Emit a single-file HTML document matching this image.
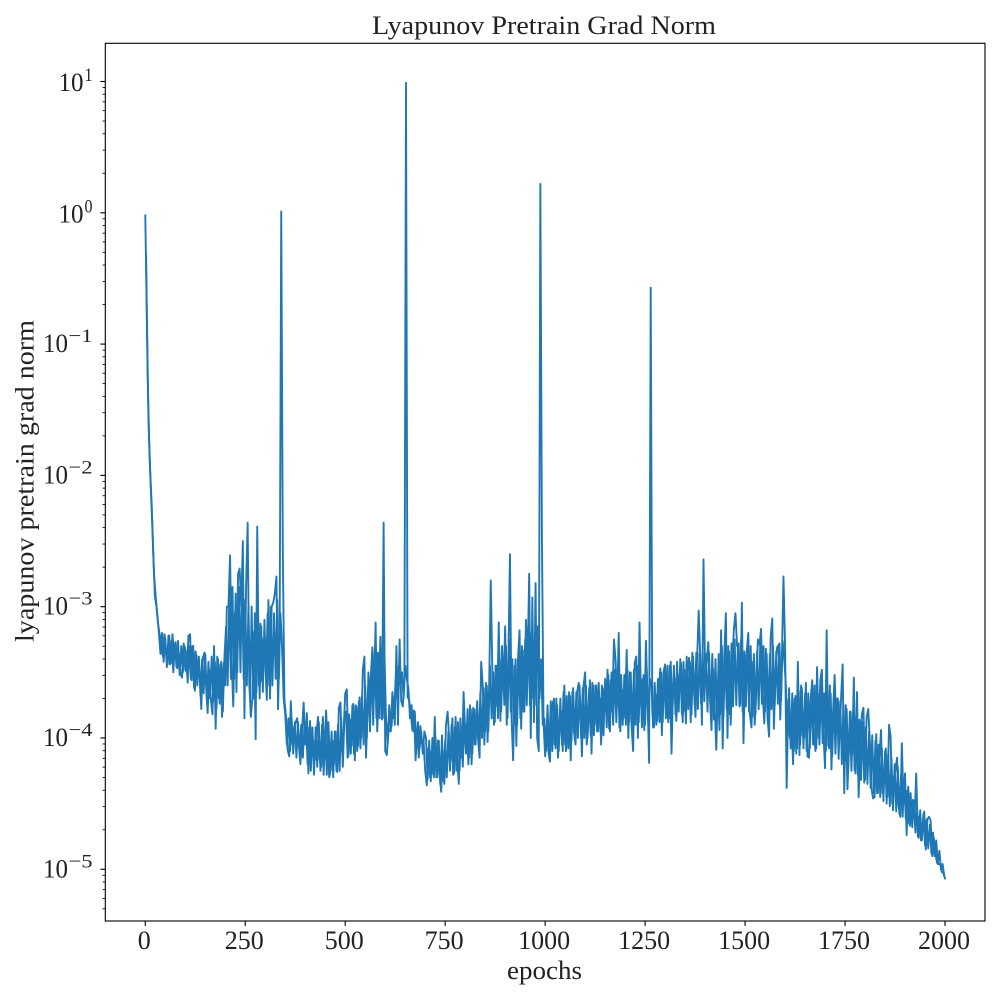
<!DOCTYPE html>
<html lang="en">
<head>
<meta charset="utf-8">
<title>Lyapunov Pretrain Grad Norm</title>
<style>
  html, body { margin: 0; padding: 0; background: #fff; }
  svg { display: block; font-family: "Liberation Serif", serif; fill: #222; }
</style>
</head>
<body>
<svg id="chart" xmlns="http://www.w3.org/2000/svg" width="1000" height="1000" viewBox="0 0 1000 1000">
  <rect x="0" y="0" width="1000" height="1000" fill="#ffffff"/>
  <defs>
    <clipPath id="plot-clip"><rect x="105.3" y="43.3" width="879.7" height="877.7"/></clipPath>
  </defs>
  <g id="series-layer" clip-path="url(#plot-clip)"></g>
  <rect x="105.3" y="43.3" width="879.7" height="877.7" fill="none" stroke="#000" stroke-width="1.11"/>
  <g id="tick-layer"></g>
  <text x="544" y="34" text-anchor="middle" font-size="26" textLength="344" lengthAdjust="spacingAndGlyphs">Lyapunov Pretrain Grad Norm</text>
  <text x="544.5" y="979" text-anchor="middle" font-size="26" textLength="75" lengthAdjust="spacingAndGlyphs">epochs</text>
  <text transform="translate(33.5 481) rotate(-90)" text-anchor="middle" font-size="26" textLength="322" lengthAdjust="spacingAndGlyphs">lyapunov pretrain grad norm</text>
</svg>
<script>
// Epoch spacing of the samples.
const epochStep = 4;
// log10 of the gradient norm at epochs 0, 4, 8 ...; each row covers 100 epochs.
const log10GradNorm = [
  -0.02,-0.82,-1.58,-1.96,-2.22,-2.6,-2.92,-3.0,-3.13,-3.21,-3.28,-3.38,-3.21,-3.33,-3.44,-3.22,-3.43,-3.21,-3.38,-3.27,-3.47,-3.36,-3.51,-3.54,-3.28,
  -3.48,-3.5,-3.22,-3.21,-3.56,-3.3,-3.64,-3.37,-3.53,-3.5,-3.78,-3.39,-3.35,-3.6,-3.81,-3.48,-3.71,-3.82,-3.3,-3.93,-3.38,-3.7,-3.44,-3.84,-3.43,
  -3.6,-3.0,-3.0,-2.61,-3.4,-3.76,-3.05,-3.65,-2.75,-2.71,-3.0,-2.5,-3.85,-2.85,-2.36,-3.58,-3.84,-3.69,-3.19,-4.01,-2.39,-3.6,-3.13,-3.57,-3.24,
  -3.43,-3.71,-2.95,-3.7,-3.0,-2.97,-2.9,-2.77,-3.78,-3.24,0.01,-2.6,-3.71,-3.84,-4.09,-4.14,-3.72,-4.05,-3.92,-3.88,-3.85,-4.05,-4.2,-3.95,-3.73,
  -4.05,-3.81,-4.27,-3.87,-4.14,-4.02,-4.17,-3.97,-3.84,-4.16,-4.22,-3.84,-4.15,-3.79,-4.02,-4.3,-4.24,-4.02,-4.2,-3.95,-4.26,-3.77,-3.73,-4.1,-3.95,
  -3.66,-3.63,-4.14,-3.86,-4.06,-3.74,-4.17,-3.76,-4.06,-3.69,-4.0,-3.48,-3.38,-4.15,-3.76,-3.65,-3.53,-3.31,-3.65,-3.12,-3.95,-3.65,-3.23,-3.86,-2.36,
  -4.1,-4.13,-3.96,-3.93,-3.91,-3.69,-3.9,-3.3,-3.9,-3.25,-3.72,-3.76,-3.55,0.99,-3.69,-3.71,-3.81,-3.94,-3.79,-4.17,-3.94,-4.15,-3.91,-4.04,-4.03,
  -4.25,-4.36,-4.08,-4.3,-4.1,-4.28,-3.84,-4.3,-4.02,-4.28,-4.41,-4.1,-4.35,-3.9,-3.8,-4.0,-4.17,-3.85,-4.27,-3.84,-4.15,-4.35,-3.85,-4.15,-3.65,
  -3.95,-3.9,-4.2,-3.75,-4.2,-3.77,-4.05,-3.78,-4.0,-4.15,-3.42,-3.6,-4.05,-3.58,-4.03,-3.6,-2.8,-3.5,-3.9,-3.45,-3.76,-3.12,-3.87,-3.3,-3.6,
  -3.15,-3.9,-3.4,-2.6,-3.85,-4.17,-3.45,-4.06,-3.4,-3.18,-3.93,-3.33,-3.8,-3.1,-3.46,-2.75,-4.0,-2.93,-3.88,-2.82,-4.0,-4.1,0.22,-2.5,-3.88,
  -4.14,-3.94,-4.1,-4.18,-3.79,-3.72,-4.05,-3.7,-4.15,-3.94,-3.8,-4.1,-3.6,-4.1,-3.9,-3.65,-4.17,-3.65,-3.95,-4.05,-3.65,-3.58,-3.75,-4.14,-3.6,
  -3.5,-4.05,-3.9,-3.56,-4.12,-3.6,-3.9,-3.6,-3.95,-3.7,-4.05,-3.62,-3.75,-3.8,-3.48,-3.93,-3.56,-3.8,-3.25,-3.4,-3.75,-3.2,-3.95,-3.63,-3.85,
  -3.75,-3.33,-4.0,-3.5,-3.9,-4.1,-3.43,-3.38,-4.0,-3.12,-3.75,-3.55,-3.94,-3.26,-3.7,-4.19,-0.57,-3.8,-3.92,-3.67,-3.87,-3.65,-3.47,-3.98,-3.5,
  -3.44,-3.7,-3.88,-3.45,-4.12,-3.6,-3.55,-3.87,-3.6,-3.53,-3.43,-3.88,-3.48,-3.89,-3.47,-3.39,-3.88,-3.35,-3.63,-3.84,-3.4,-3.03,-3.4,-3.9,-2.64,
  -3.5,-3.42,-3.27,-3.68,-3.94,-3.47,-3.76,-4.09,-3.6,-3.94,-3.18,-4.08,-3.37,-3.05,-4.0,-3.34,-3.9,-3.44,-3.17,-3.05,-3.3,-3.28,-3.75,-2.97,-4.04,
  -3.47,-3.35,-3.2,-3.82,-3.92,-3.42,-3.9,-3.64,-3.25,-3.29,-3.17,-3.67,-3.89,-3.32,-3.84,-3.99,-3.23,-3.09,-3.93,-3.52,-3.31,-3.29,-3.86,-3.4,-2.77,
  -3.3,-4.38,-3.71,-4.0,-3.83,-4.2,-3.7,-4.12,-3.42,-4.13,-3.6,-3.98,-4.0,-3.58,-4.14,-4.15,-3.7,-3.56,-3.95,-4.1,-3.46,-4.0,-3.56,-3.48,-3.97,
  -4.23,-3.18,-4.06,-3.6,-4.24,-3.8,-3.52,-3.9,-3.7,-4.0,-3.7,-3.44,-4.42,-3.75,-4.39,-4.07,-3.8,-4.12,-3.54,-4.27,-3.65,-4.45,-4.04,-3.82,-3.77,
  -4.32,-3.84,-3.78,-4.02,-4.38,-4.46,-4.45,-3.97,-4.42,-4.14,-3.94,-4.42,-4.3,-4.08,-4.45,-3.9,-3.99,-4.5,-4.3,-4.25,-4.15,-4.52,-4.6,-4.04,-4.48,
  -4.27,-4.74,-4.37,-4.67,-4.55,-4.47,-4.6,-4.27,-4.75,-4.6,-4.78,-4.7,-4.56,-4.85,-4.62,-4.6,-4.63,-4.9,-4.76,-4.88,-4.95,-4.96,-4.96,-5.02,-5.03,-5.07
];
// log10 of the gradient norm at epochs 2, 6, 10 ...: the dense core of the noisy band.
const log10GradNormCore = [
  -0.32,-1.27,-1.77,-2.11,-2.42,-2.76,-2.92,-3.06,-3.2,-3.36,-3.2,-3.42,-3.24,-3.46,-3.22,-3.44,-3.26,-3.5,-3.28,-3.46,-3.26,-3.52,-3.3,-3.5,-3.3,
  -3.35,-3.58,-3.3,-3.55,-3.3,-3.62,-3.34,-3.6,-3.38,-3.68,-3.4,-3.66,-3.36,-3.72,-3.42,-3.7,-3.38,-3.72,-3.42,-3.78,-3.4,-3.74,-3.42,-3.8,-3.38,
  -3.15,-3.6,-2.95,-3.55,-2.85,-3.55,-2.9,-3.5,-2.85,-3.5,-2.8,-3.55,-2.95,-3.6,-3.0,-3.7,-3.0,-3.7,-3.05,-3.65,-3.05,-3.7,-3.15,-3.65,-3.1,
  -3.55,-3.05,-3.6,-3.0,-3.6,-3.05,-3.55,-2.95,-3.55,-3.05,-3.3,-3.7,-3.82,-4.05,-3.85,-4.1,-3.85,-4.12,-3.88,-4.15,-3.88,-4.12,-3.9,-4.15,-3.9,
  -3.9,-4.2,-3.92,-4.25,-3.92,-4.28,-3.92,-4.22,-3.88,-4.25,-3.9,-4.28,-3.95,-4.28,-3.88,-4.22,-3.95,-4.3,-3.95,-4.25,-3.9,-4.25,-3.85,-4.22,-3.85,
  -3.8,-4.15,-3.82,-4.12,-3.75,-4.12,-3.75,-4.1,-3.72,-4.08,-3.68,-4.05,-3.6,-4.0,-3.5,-3.95,-3.42,-3.9,-3.35,-3.85,-3.35,-3.85,-3.32,-3.85,-3.35,
  -3.85,-4.05,-3.75,-3.95,-3.65,-3.85,-3.55,-3.7,-3.45,-3.6,-3.5,-3.7,-3.45,-3.55,-3.62,-3.85,-3.75,-3.95,-3.8,-4.05,-3.88,-4.08,-3.95,-4.12,-3.95,
  -4.0,-4.32,-4.02,-4.33,-4.0,-4.3,-4.0,-4.3,-4.02,-4.36,-3.98,-4.33,-4.02,-4.3,-3.95,-4.25,-3.9,-4.28,-3.92,-4.25,-3.88,-4.25,-3.92,-4.22,-3.85,
  -4.12,-3.78,-4.15,-3.78,-4.12,-3.78,-4.05,-3.72,-4.05,-3.65,-4.0,-3.62,-3.95,-3.6,-3.95,-3.45,-3.85,-3.5,-3.88,-3.45,-3.85,-3.4,-3.8,-3.4,-3.75,
  -3.3,-3.85,-3.25,-3.8,-3.4,-3.9,-3.4,-3.9,-3.35,-3.85,-3.3,-3.8,-3.25,-3.75,-3.2,-3.75,-3.2,-3.7,-3.25,-3.75,-3.15,-3.7,-3.4,-3.9,-3.85,
  -4.1,-3.75,-4.12,-3.72,-4.1,-3.7,-4.08,-3.75,-4.1,-3.7,-4.05,-3.65,-4.05,-3.68,-4.08,-3.68,-4.02,-3.62,-4.0,-3.65,-4.0,-3.6,-4.0,-3.62,-4.0,
  -3.6,-4.0,-3.62,-3.98,-3.58,-3.98,-3.6,-3.95,-3.58,-3.95,-3.6,-3.98,-3.55,-3.92,-3.52,-3.95,-3.5,-3.9,-3.48,-3.88,-3.5,-3.92,-3.52,-3.9,-3.52,
  -3.9,-3.48,-3.88,-3.5,-3.92,-3.48,-3.9,-3.45,-3.88,-3.5,-3.92,-3.52,-3.9,-3.48,-3.88,-3.55,-3.6,-3.92,-3.58,-3.9,-3.55,-3.88,-3.5,-3.88,-3.48,
  -3.85,-3.45,-3.85,-3.42,-3.82,-3.45,-3.82,-3.42,-3.8,-3.4,-3.82,-3.42,-3.8,-3.38,-3.78,-3.42,-3.82,-3.38,-3.75,-3.35,-3.78,-3.36,-3.74,-3.35,-3.72,
  -3.36,-3.8,-3.35,-3.82,-3.36,-3.86,-3.4,-3.86,-3.36,-3.82,-3.3,-3.84,-3.34,-3.78,-3.3,-3.82,-3.28,-3.76,-3.25,-3.75,-3.28,-3.76,-3.25,-3.8,-3.34,
  -3.76,-3.28,-3.8,-3.3,-3.84,-3.36,-3.82,-3.34,-3.78,-3.28,-3.74,-3.3,-3.8,-3.36,-3.82,-3.36,-3.78,-3.3,-3.76,-3.34,-3.74,-3.28,-3.72,-3.26,-3.4,
  -3.6,-4.02,-3.62,-4.08,-3.66,-4.1,-3.68,-4.08,-3.64,-4.05,-3.62,-4.08,-3.66,-4.1,-3.66,-4.08,-3.64,-4.05,-3.6,-4.08,-3.66,-4.05,-3.6,-4.04,-3.66,
  -4.1,-3.65,-4.08,-3.66,-4.14,-3.68,-4.12,-3.7,-4.16,-3.72,-4.2,-3.75,-4.18,-3.78,-4.22,-3.8,-4.25,-3.82,-4.25,-3.84,-4.28,-3.86,-4.32,-3.88,-4.34,
  -3.92,-4.35,-3.95,-4.38,-3.98,-4.42,-4.02,-4.42,-4.05,-4.45,-4.08,-4.48,-4.1,-4.5,-4.12,-4.52,-4.15,-4.55,-4.2,-4.56,-4.22,-4.58,-4.28,-4.6,-4.32,
  -4.62,-4.4,-4.65,-4.42,-4.68,-4.48,-4.72,-4.52,-4.76,-4.55,-4.78,-4.58,-4.82,-4.62,-4.84,-4.66,-4.88,-4.72,-4.9,-4.78,-4.96,-4.86,-5.0,-4.96,-5.05
];
// Axis tick values and labels.
const xTickValues = [0, 250, 500, 750, 1000, 1250, 1500, 1750, 2000];
const xTickLabels = ["0", "250", "500", "750", "1000", "1250", "1500", "1750", "2000"];
const yTickExponents = [1, 0, -1, -2, -3, -4, -5];
const yTickLabels = ["1", "0", "\u22121", "\u22122", "\u22123", "\u22124", "\u22125"];
const yMinorMultipliers = [2, 3, 4, 5, 6, 7, 8, 9];
const yMinorDecades = [-6, -5, -4, -3, -2, -1, 0, 1];
// Axis limits.
const xLimits = [-100, 2100];
const logLimits = [-5.394, 1.291];

const SVG_NS = "http://www.w3.org/2000/svg";
const box = { left: 105.3, right: 985, top: 43.3, bottom: 921 };

function xScale(epoch) {
  return box.left + (epoch - xLimits[0]) / (xLimits[1] - xLimits[0]) * (box.right - box.left);
}
function yScale(logValue) {
  return box.bottom - (logValue - logLimits[0]) / (logLimits[1] - logLimits[0]) * (box.bottom - box.top);
}
function make(tag, attrs, parent) {
  const el = document.createElementNS(SVG_NS, tag);
  for (const k in attrs) el.setAttribute(k, attrs[k]);
  parent.appendChild(el);
  return el;
}

const seriesLayer = document.getElementById("series-layer");
const tickLayer = document.getElementById("tick-layer");

// Series lines
const corePoints = log10GradNormCore.map(function (v, i) {
  return xScale(i * epochStep + epochStep / 2).toFixed(2) + "," + yScale(v).toFixed(2);
}).join(" ");
const coreLine = make("polyline", {
  points: corePoints, fill: "none", stroke: "#1f77b4",
  "stroke-width": 1.9, "stroke-linejoin": "round", "stroke-linecap": "square"
}, seriesLayer);



const linePoints = log10GradNorm.map(function (v, i) {
  return xScale(i * epochStep).toFixed(2) + "," + yScale(v).toFixed(2);
}).join(" ");
const seriesLine = make("polyline", {
  points: linePoints, fill: "none", stroke: "#1f77b4",
  "stroke-width": 1.9, "stroke-linejoin": "round", "stroke-linecap": "square"
}, seriesLayer);



// X ticks and labels
xTickValues.forEach(function (value, i) {
  const x = xScale(value);
  const tick = make("line", { x1: x, x2: x, y1: box.bottom, y2: box.bottom + 4.9, stroke: "#000", "stroke-width": 1.11 }, tickLayer);
  
  
  const label = make("text", { x: x - 1, y: 949, "text-anchor": "middle", "font-size": 26 }, tickLayer);
  
  
  label.textContent = xTickLabels[i];
});

// Y major ticks and labels
yTickExponents.forEach(function (exponent, i) {
  const y = yScale(exponent);
  const negative = exponent < 0;
  const tick = make("line", { x1: box.left - 4.9, x2: box.left, y1: y, y2: y, stroke: "#000", "stroke-width": 1.11 }, tickLayer);
  
  
  const group = make("g", {}, tickLayer);
  
  
  const power = make("text", {
    x: negative ? 68.5 : 84.5, y: negative ? y - 2 : y - 0.5,
    "font-size": 19, textLength: negative ? 24 : 8, lengthAdjust: "spacingAndGlyphs"
  }, group);
  
  
  power.textContent = yTickLabels[i];
  const base = make("text", {
    x: negative ? 43 : 58.5, y: negative ? y + 8 : y + 9.5,
    "font-size": 26, textLength: 25, lengthAdjust: "spacingAndGlyphs"
  }, group);
  
  
  base.textContent = "10";
});

// Y minor ticks
yMinorDecades.forEach(function (decade) {
  yMinorMultipliers.forEach(function (m) {
    const logValue = decade + Math.log10(m);
    if (logValue < logLimits[0] || logValue > logLimits[1]) return;
    const y = yScale(logValue);
    const tick = make("line", { x1: box.left - 2.8, x2: box.left, y1: y, y2: y, stroke: "#000", "stroke-width": 0.83 }, tickLayer);
    
    
  });
});
</script>
</body>
</html>
